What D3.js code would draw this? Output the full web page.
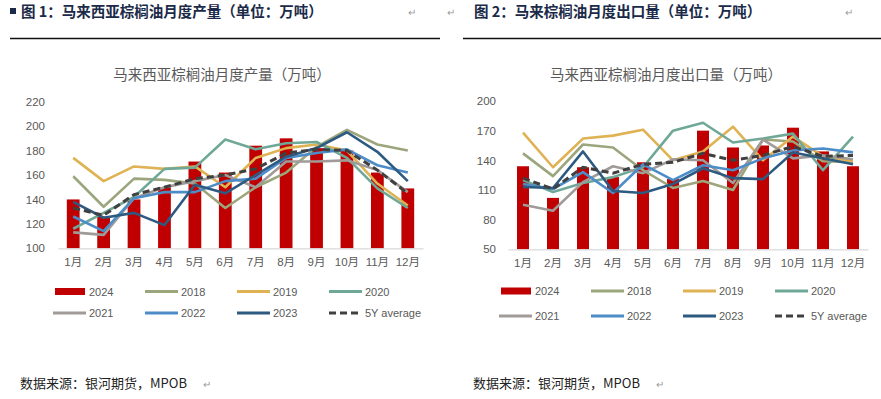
<!DOCTYPE html>
<html>
<head>
<meta charset="utf-8">
<script src="https://d3js.org/d3.v7.min.js"></script>
<style>
body { margin: 0; background: #fff; }
svg { display: block; font-family: "Liberation Sans", "Noto Sans CJK SC", sans-serif; }
.head { font-family: "Noto Sans CJK SC", sans-serif; font-weight: bold; font-size: 14.5px; fill: #1b2a48; }
.ctitle { font-family: "Noto Sans CJK SC", sans-serif; font-size: 14.5px; fill: #595959; }
.tick text { fill: #595959; font-size: 11.5px; font-family: "Liberation Sans", "Noto Sans CJK SC", sans-serif; }
.leg { fill: #595959; font-size: 11px; }
.foot { font-family: "Noto Sans CJK SC", sans-serif; font-size: 13px; fill: #222; }
.ret { fill: #9a9a9a; font-size: 10px; }
</style>
</head>
<body>
<svg id="page" width="881" height="399"></svg>
<script>
var months = ["1月","2月","3月","4月","5月","6月","7月","8月","9月","10月","11月","12月"]
var lineYears = ["2018","2019","2020","2021","2022","2023"]
var colors = {"2024":"#c00000","2018":"#9ca67c","2019":"#dfb254","2020":"#70a898","2021":"#a09a98","2022":"#4d8cc7","2023":"#2d5a80","avg":"#404040"}

// 产量
var prod2024 = [140, 126, 140, 150, 171, 162, 184, 190, 182, 180, 162, 149]
var prod2018 = [159, 134, 157, 156, 153, 133, 150, 162, 183, 197, 185, 180]
var prod2019 = [174, 155, 167, 165, 167, 150, 174, 182, 185, 180, 153, 135]
var prod2020 = [116, 129, 142, 165, 166, 189, 181, 186, 187, 174, 149, 133]
var prod2021 = [113, 111, 141, 150, 155, 160, 150, 171, 171, 172, 164, 146]
var prod2022 = [126, 114, 141, 146, 146, 155, 157, 174, 178, 181, 168, 162]
var prod2023 = [138, 125, 129, 119, 152, 145, 160, 175, 182, 195, 179, 155]
var prodAvg  = [133, 127, 144, 150, 157, 160, 165, 178, 181, 180, 164, 145]

// 出口量
var exp2024 = [134, 102, 133, 123, 138, 121, 170, 153, 155, 173, 149, 134]
var exp2018 = [147, 124, 156, 153, 130, 112, 119, 110, 161, 159, 139, 138]
var exp2019 = [168, 133, 162, 165, 171, 140, 149, 174, 140, 164, 144, 139]
var exp2020 = [120, 108, 117, 123, 133, 170, 178, 158, 162, 167, 130, 164]
var exp2021 = [95, 89, 118, 134, 127, 141, 140, 117, 161, 142, 145, 141]
var exp2022 = [116, 111, 128, 107, 136, 120, 135, 130, 142, 150, 152, 148]
var exp2023 = [113, 112, 149, 109, 107, 116, 132, 122, 121, 148, 142, 136]
var expAvg  = [122, 111, 133, 127, 136, 138, 147, 140, 145, 154, 144, 145]

var svg = d3.select("#page")

function drawChart(opt) {
    var g = svg.append("g")
    var x = d3.scaleBand().domain(months).range([opt.x0, opt.x1])
    var y = d3.scaleLinear().domain(opt.domain).range([opt.yb, opt.yt])

    g.append("text").attr("class", "ctitle").attr("x", opt.titleX).attr("y", 80)
        .attr("text-anchor", "middle").text(opt.title)

    var ya = g.append("g").attr("transform", "translate(" + opt.yLabelX + ",0)")
        .call(d3.axisLeft(y).tickValues(d3.range(opt.domain[0], opt.domain[1] + 1, opt.step)).tickSize(0).tickPadding(0))
    ya.select(".domain").remove()

    // bars 2024
    g.selectAll("rect.bar").data(opt.bars).enter().append("rect")
        .attr("class", "bar")
        .attr("x", (d, i) => x(months[i]) + x.bandwidth() * (1 - opt.barW) / 2)
        .attr("width", x.bandwidth() * opt.barW)
        .attr("y", d => y(d))
        .attr("height", d => opt.yb - y(d))
        .attr("fill", colors["2024"])

    var xa = g.append("g").attr("transform", "translate(0," + opt.yb + ")")
        .call(d3.axisBottom(x).tickSize(0).tickPadding(10))
    xa.select(".domain").attr("stroke", "#d9d9d9").attr("stroke-width", 1.2)

    var line = d3.line().x((d, i) => x(months[i]) + x.bandwidth() / 2).y(d => y(d))
    lineYears.forEach(function(yr, k) {
        g.append("path").datum(opt.lines[k]).attr("d", line)
            .attr("fill", "none").attr("stroke", colors[yr]).attr("stroke-width", 2.6)
            .attr("stroke-linejoin", "round")
    })
    g.append("path").datum(opt.avg).attr("d", line)
        .attr("fill", "none").attr("stroke", colors.avg).attr("stroke-width", 3)
        .attr("stroke-dasharray", "7,4")

    // legend
    var items = ["2024"].concat(lineYears).concat(["avg"])
    items.forEach(function(it, i) {
        var col = i % 4, row = Math.floor(i / 4)
        var lx = opt.legX + col * 92, ly = opt.legY[row]
        if (it == "2024") {
            g.append("rect").attr("x", lx + 2).attr("y", ly - 3.5).attr("width", 30).attr("height", 7).attr("fill", colors[it])
        } else {
            g.append("line").attr("x1", lx).attr("x2", lx + 33).attr("y1", ly).attr("y2", ly)
                .attr("stroke", colors[it]).attr("stroke-width", 3)
                .attr("stroke-dasharray", it == "avg" ? "7,4" : null)
        }
        g.append("text").attr("class", "leg").attr("x", lx + 36).attr("y", ly + 4)
            .text(it == "avg" ? "5Y average" : it)
    })
}

// headers
svg.append("rect").attr("x", 10).attr("y", 8).attr("width", 6).attr("height", 6).attr("fill", "#1b2a48")
svg.append("text").attr("class", "head").attr("x", 21).attr("y", 17).text("图 1：马来西亚棕榈油月度产量（单位：万吨）")
svg.append("text").attr("class", "head").attr("x", 474).attr("y", 17).text("图 2：马来棕榈油月度出口量（单位：万吨）")
svg.append("text").attr("class", "ret").attr("x", 408).attr("y", 16).text("↵")
svg.append("text").attr("class", "ret").attr("x", 447).attr("y", 16).text("↵")
svg.append("text").attr("class", "ret").attr("x", 845).attr("y", 16).text("↵")
svg.append("line").attr("x1", 10).attr("x2", 440).attr("y1", 38.5).attr("y2", 38.5).attr("stroke", "#111").attr("stroke-width", 1.3)
svg.append("line").attr("x1", 463).attr("x2", 881).attr("y1", 38.5).attr("y2", 38.5).attr("stroke", "#111").attr("stroke-width", 1.3)

drawChart({
    title: "马来西亚棕榈油月度产量（万吨）", titleX: 222,
    x0: 58, x1: 423, yb: 248.3, yt: 101.7, domain: [100, 220], step: 20, yLabelX: 45,
    bars: prod2024, lines: [prod2018, prod2019, prod2020, prod2021, prod2022, prod2023], avg: prodAvg,
    barW: 0.42, legX: 53, legY: [291.5, 313]
})
drawChart({
    title: "马来西亚棕榈油月度出口量（万吨）", titleX: 666,
    x0: 508, x1: 868, yb: 249.3, yt: 101, domain: [50, 200], step: 30, yLabelX: 496,
    bars: exp2024, lines: [exp2018, exp2019, exp2020, exp2021, exp2022, exp2023], avg: expAvg,
    barW: 0.4, legX: 499, legY: [291, 316]
})

// footers
svg.append("text").attr("class", "foot").attr("x", 20).attr("y", 388).text("数据来源：银河期货，MPOB")
svg.append("text").attr("class", "ret").attr("x", 203).attr("y", 388).text("↵")
svg.append("text").attr("class", "foot").attr("x", 473).attr("y", 388).text("数据来源：银河期货，MPOB")
svg.append("text").attr("class", "ret").attr("x", 656).attr("y", 388).text("↵")
</script>
</body>
</html>
